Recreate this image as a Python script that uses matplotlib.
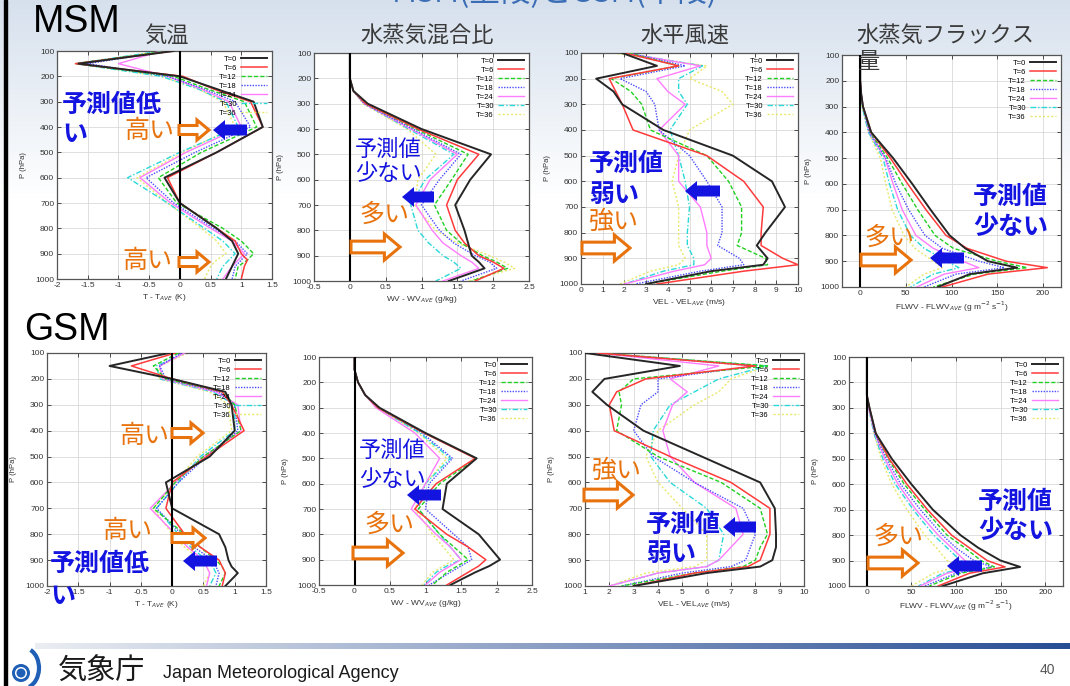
import numpy as np
import matplotlib
matplotlib.use("Agg")
import matplotlib.pyplot as plt
from matplotlib.patches import FancyArrow, Rectangle, Circle, Arc

plt.rcParams['font.family'] = ['Liberation Sans', 'Noto Sans CJK JP', 'DejaVu Sans']
JP = ['Noto Sans CJK JP', 'DejaVu Sans']

W, H = 1070, 686

# pressure levels (hPa)
levels = [100, 150, 200, 250, 300, 400, 500, 600, 700, 800, 850, 900, 925, 950, 1000]
series_labels = ['T=0', 'T=6', 'T=12', 'T=18', 'T=24', 'T=30', 'T=36']

# MSM (upper row)
msm_temp = [
    [-0.1, -1.65, 0.0, 0.6, 1.2, 1.35, 0.6, -0.25, 0.0, 0.6, 0.85, 0.95, 0.9, 0.85, 0.75],
    [-0.1, -1.7, 0.05, 0.55, 1.15, 1.35, 0.6, -0.2, 0.0, 0.6, 0.9, 1.0, 1.1, 1.05, 1.0],
    [-0.2, -1.7, -0.1, 0.45, 1.05, 1.25, 0.35, -0.35, -0.05, 0.7, 1.0, 1.2, 1.1, 0.95, 0.9],
    [-0.2, -1.5, -0.2, 0.4, 0.9, 1.15, 0.25, -0.55, -0.1, 0.55, 0.9, 1.1, 1.0, 0.9, 0.85],
    [-0.3, -1.0, -0.2, 0.35, 0.8, 1.0, 0.1, -0.65, -0.15, 0.5, 0.85, 1.05, 0.95, 0.85, 0.7],
    [-0.3, -1.7, -0.3, 0.3, 0.75, 0.95, 0.0, -0.85, -0.2, 0.4, 0.7, 0.9, 0.8, 0.7, 0.6],
    [-0.3, -1.6, -0.3, 0.3, 0.7, 0.9, 0.05, -0.7, -0.2, 0.35, 0.6, 0.75, 0.6, 0.5, 0.4],
]
msm_wv = [
    [0, 0, 0.0, 0.05, 0.25, 1.0, 1.97, 1.68, 1.47, 1.6, 1.65, 1.7, 1.8, 1.88, 1.38],
    [0, 0, 0.0, 0.05, 0.22, 0.95, 1.8, 1.5, 1.35, 1.47, 1.6, 1.8, 2.0, 2.15, 1.75],
    [0, 0, 0.0, 0.05, 0.22, 0.92, 1.65, 1.42, 1.18, 1.35, 1.55, 1.85, 2.05, 2.2, 1.7],
    [0, 0, 0.0, 0.05, 0.2, 0.88, 1.55, 1.25, 1.0, 1.25, 1.45, 1.75, 1.95, 2.05, 1.55],
    [0, 0, 0.0, 0.05, 0.2, 0.85, 1.5, 1.12, 0.92, 1.15, 1.3, 1.55, 1.7, 1.8, 1.3],
    [0, 0, 0.0, 0.05, 0.2, 0.82, 1.45, 1.05, 0.85, 0.95, 1.1, 1.3, 1.45, 1.55, 1.2],
    [0, 0, 0.0, 0.05, 0.18, 0.8, 1.2, 0.95, 0.9, 1.2, 1.5, 1.95, 2.15, 2.3, 1.65],
]
msm_vel = [
    [1.9, 3.5, 0.7, 1.5, 1.9, 3.8, 7.0, 8.8, 9.4, 8.5, 8.1, 8.6, 8.4, 6.0, 3.0],
    [2.0, 4.5, 1.3, 1.6, 1.9, 2.4, 5.8, 7.5, 8.4, 8.3, 8.3, 9.3, 10.0, 7.5, 3.5],
    [2.2, 4.5, 1.4, 2.3, 2.8, 3.2, 5.8, 6.8, 7.4, 7.4, 7.2, 8.5, 8.6, 6.5, 3.0],
    [2.2, 4.8, 1.8, 3.0, 3.4, 3.6, 5.0, 5.8, 6.5, 6.5, 6.3, 7.3, 7.5, 5.5, 2.5],
    [2.0, 5.5, 3.5, 4.0, 4.8, 3.6, 4.5, 4.5, 5.5, 5.8, 5.8, 6.0, 5.7, 4.3, 2.0],
    [2.0, 5.6, 4.5, 4.5, 4.9, 4.1, 4.5, 4.8, 5.0, 4.9, 4.9, 5.2, 5.2, 3.8, 2.0],
    [1.5, 5.8, 5.0, 6.5, 7.0, 5.0, 4.5, 4.2, 4.5, 4.5, 4.5, 4.8, 4.5, 3.2, 1.8],
]
msm_flwv = [
    [0, 0, 0, 1, 3, 12, 36, 57, 77, 98, 115, 140, 172, 120, 85],
    [0, 0, 0, 1, 3, 12, 33, 52, 72, 94, 117, 160, 205, 140, 90],
    [0, 0, 0, 1, 3, 11, 30, 46, 63, 82, 102, 150, 183, 125, 80],
    [0, 0, 0, 1, 3, 10, 28, 39, 53, 71, 90, 130, 158, 105, 70],
    [0, 0, 0, 1, 3, 10, 27, 36, 46, 61, 80, 112, 130, 92, 62],
    [0, 0, 0, 1, 2, 9, 25, 32, 41, 55, 70, 95, 108, 80, 55],
    [0, 0, 0, 1, 2, 9, 22, 28, 35, 48, 60, 80, 90, 70, 50],
]

# GSM (lower row)
gsm_temp = [
    [-0.05, -1.0, 0.0, 0.85, 0.95, 1.0, 0.6, -0.1, 0.0, 0.75, 0.85, 0.9, 0.95, 1.05, 0.85],
    [0.05, -0.65, 0.0, 0.8, 0.95, 1.15, 0.55, 0.0, -0.1, 0.2, 0.45, 0.75, 0.8, 0.85, 0.8],
    [0.1, -0.3, -0.1, 0.8, 1.0, 1.1, 0.5, 0.05, -0.3, 0.2, 0.45, 0.7, 0.8, 0.85, 0.75],
    [0.15, -0.2, -0.1, 0.75, 1.0, 1.05, 0.55, 0.1, -0.25, 0.15, 0.35, 0.65, 0.7, 0.75, 0.7],
    [0.2, -0.2, -0.15, 0.7, 1.05, 1.1, 0.5, 0.05, -0.35, 0.05, 0.25, 0.5, 0.55, 0.6, 0.55],
    [0.2, -0.25, -0.2, 0.65, 1.0, 1.0, 0.45, 0.1, -0.25, 0.1, 0.3, 0.55, 0.65, 0.7, 0.6],
    [0.25, -0.2, -0.2, 0.6, 0.9, 0.95, 0.4, 0.05, -0.3, 0.0, 0.2, 0.45, 0.55, 0.6, 0.5],
]
gsm_wv = [
    [0, 0, 0.05, 0.15, 0.35, 1.0, 1.72, 1.3, 1.24, 1.75, 1.9, 2.05, 1.9, 1.7, 1.35],
    [0, 0, 0.05, 0.15, 0.33, 0.98, 1.7, 1.15, 0.85, 1.3, 1.6, 1.85, 1.75, 1.6, 1.3],
    [0, 0, 0.05, 0.15, 0.33, 0.98, 1.72, 1.2, 0.9, 1.2, 1.4, 1.6, 1.45, 1.3, 1.1],
    [0, 0, 0.05, 0.15, 0.35, 0.95, 1.38, 1.05, 1.0, 1.4, 1.6, 1.65, 1.5, 1.35, 1.05],
    [0, 0, 0.05, 0.15, 0.3, 0.85, 1.2, 1.0, 0.8, 1.15, 1.35, 1.5, 1.35, 1.2, 1.0],
    [0, 0, 0.05, 0.15, 0.33, 0.92, 1.35, 1.0, 0.9, 1.2, 1.35, 1.5, 1.3, 1.15, 0.98],
    [0, 0, 0.05, 0.15, 0.32, 0.9, 1.3, 1.0, 0.85, 1.1, 1.25, 1.4, 1.25, 1.1, 0.95],
]
gsm_vel = [
    [1.0, 4.9, 1.8, 1.3, 1.9, 3.4, 5.8, 8.2, 8.8, 8.85, 8.85, 8.7, 8.2, 6.0, 3.0],
    [1.5, 8.0, 3.5, 2.3, 2.0, 2.2, 4.5, 7.0, 8.6, 8.6, 8.4, 8.2, 7.7, 5.5, 3.0],
    [1.5, 8.5, 3.0, 2.4, 2.5, 2.3, 4.0, 6.6, 8.2, 8.5, 8.2, 8.0, 7.5, 5.5, 2.5],
    [1.5, 8.0, 4.0, 4.0, 3.3, 3.0, 3.8, 5.5, 7.5, 8.0, 7.8, 7.6, 7.0, 5.0, 2.5],
    [1.5, 6.5, 4.5, 5.2, 4.6, 4.2, 4.5, 5.5, 7.2, 7.5, 7.0, 6.5, 6.0, 4.0, 2.0],
    [1.5, 8.5, 6.5, 5.5, 4.5, 3.8, 3.7, 4.5, 6.0, 6.7, 6.6, 6.5, 6.0, 4.0, 2.0],
    [1.5, 8.5, 7.0, 6.5, 5.5, 4.0, 3.5, 4.0, 5.0, 6.0, 6.0, 6.0, 5.5, 3.5, 2.0],
]
gsm_flwv = [
    [0, 0, 0, 0, 3, 10, 28, 50, 74, 105, 125, 150, 172, 130, 85],
    [0, 0, 0, 0, 3, 10, 25, 45, 68, 95, 115, 135, 155, 115, 80],
    [0, 0, 0, 0, 3, 10, 24, 42, 65, 90, 110, 128, 143, 105, 70],
    [0, 0, 0, 0, 3, 9, 22, 38, 60, 85, 100, 120, 140, 100, 65],
    [0, 0, 0, 0, 2, 9, 20, 35, 55, 80, 95, 110, 120, 90, 60],
    [0, 0, 0, 0, 2, 8, 18, 32, 52, 75, 90, 105, 118, 85, 58],
    [0, 0, 0, 0, 2, 8, 16, 28, 45, 65, 78, 90, 100, 75, 50],
]

colors = ['#262626', '#ff3a3a', '#22d022', '#4a4aff', '#ff7cff', '#2ad8d8', '#e8e86a']
styles = ['-', '-', (0, (3, 1.5)), (0, (1, 1)), '-', (0, (4, 1.5, 1, 1.5)), (0, (1.5, 1.5))]
widths = [1.4, 1.1, 1.0, 1.0, 1.0, 1.0, 1.0]

xlab_t = 'T - T$_{AVE}$ (K)'
xlab_wv = 'WV - WV$_{AVE}$ (g/kg)'
xlab_vel = 'VEL - VEL$_{AVE}$ (m/s)'
xlab_fl = 'FLWV - FLWV$_{AVE}$ (g m$^{-2}$ s$^{-1}$)'

# (data, pixel box l, r, t, b, xlim, xticks, xlabel, zero line)
panels = [
    (msm_temp, (57, 272, 51, 279), (-2, 1.5), np.arange(-2, 1.51, 0.5), xlab_t, True),
    (msm_wv, (314, 529, 53, 281), (-0.5, 2.5), np.arange(-0.5, 2.51, 0.5), xlab_wv, True),
    (msm_vel, (581, 798, 53, 284), (0, 10), np.arange(0, 11, 1), xlab_vel, False),
    (msm_flwv, (842, 1061, 55, 287), (-20, 220), np.arange(0, 201, 50), xlab_fl, True),
    (gsm_temp, (47, 266, 353, 586), (-2, 1.5), np.arange(-2, 1.51, 0.5), xlab_t, True),
    (gsm_wv, (319, 532, 357, 585), (-0.5, 2.5), np.arange(-0.5, 2.51, 0.5), xlab_wv, True),
    (gsm_vel, (585, 804, 353, 586), (1, 10), np.arange(1, 11, 1), xlab_vel, False),
    (gsm_flwv, (849, 1063, 357, 586), (-20, 220), np.arange(0, 201, 50), xlab_fl, True),
]


def fmt(v):
    return '%g' % round(v, 2)


fig = plt.figure(figsize=(W / 100, H / 100), dpi=100)
fig.patch.set_facecolor('white')

# slide background
bg = fig.add_axes([0, 0, 1, 1], zorder=-5)
bg.axis('off')
grad = np.linspace(0, 1, 200).reshape(-1, 1)
top = np.array([0.84, 0.88, 0.93])
cmap_v = top[None, None, :] * (1 - grad[:, :, None]) + np.ones(3)[None, None, :] * grad[:, :, None]
bg.imshow(cmap_v, extent=(0, W, 200, 0), aspect='auto', interpolation='bilinear')
hg = np.linspace(0, 1, 300).reshape(1, -1)
c0 = np.array([0.92, 0.93, 0.95])
c1 = np.array([0.15, 0.30, 0.58])
line_img = c0[None, None, :] * (1 - hg[:, :, None]) + c1[None, None, :] * hg[:, :, None]
bg.imshow(line_img, extent=(35, W, 649, 643), aspect='auto', interpolation='bilinear')
bg.set_xlim(0, W)
bg.set_ylim(H, 0)

for data, (l, r, t, b), xl, xt, xlab, zero in panels:
    ax = fig.add_axes([l / W, 1 - b / H, (r - l) / W, (b - t) / H])
    ax.set_facecolor('white')
    for i in range(len(series_labels)):
        ax.plot(data[i], levels, color=colors[i], ls=styles[i], lw=widths[i],
                label=series_labels[i], zorder=3 - i * 0.1)
    if zero:
        ax.axvline(0, color='black', lw=1.5, zorder=4)
    ax.set_xlim(*xl)
    ax.set_ylim(1000, 100)
    ax.set_xticks(xt)
    ax.set_xticklabels([fmt(v) for v in xt])
    ax.set_yticks(range(100, 1001, 100))
    ax.grid(True, color='#d9d9d9', lw=0.6)
    ax.set_axisbelow(True)
    ax.tick_params(direction='in', top=True, right=True, length=3, width=0.6,
                   labelsize=6, colors='#333333', pad=2)
    for s in ax.spines.values():
        s.set_color('#555555')
        s.set_linewidth(0.9)
    ax.set_xlabel(xlab, fontsize=6, color='#333333', labelpad=2)
    ax.set_ylabel('P (hPa)', fontsize=5.5, color='#333333', labelpad=6)
    ax.legend(loc='upper right', fontsize=5.5, frameon=False, markerfirst=False,
              handlelength=3.4, labelspacing=0.22, handletextpad=0.6,
              borderaxespad=0.4, borderpad=0.2)

# overlay for slide text and arrows
ov = fig.add_axes([0, 0, 1, 1], zorder=10)
ov.set_xlim(0, W)
ov.set_ylim(H, 0)
ov.axis('off')

orange = '#e8720c'
blue = '#1414e0'
gray = '#3a3a3a'

ov.add_patch(Rectangle((4, 0), 3, H, color='black'))

ov.text(555, -7, 'MSM(上段)とGSM(下段)', fontsize=22, color='#3a6db5', ha='center', va='center', family=JP)
ov.text(33, 22, 'MSM', fontsize=27, color='black', ha='left', va='center')
ov.text(24, 330, 'GSM', fontsize=27, color='black', ha='left', va='center')

ov.text(166, 35, '気温', fontsize=16, color=gray, ha='center', va='center', family=JP)
ov.text(427, 35, '水蒸気混合比', fontsize=16, color=gray, ha='center', va='center', family=JP)
ov.text(685, 35, '水平風速', fontsize=16, color=gray, ha='center', va='center', family=JP)
ov.text(856, 35, '水蒸気フラックス', fontsize=16, color=gray, ha='left', va='center', family=JP)
ov.text(858, 62, '量', fontsize=16, color=gray, ha='left', va='center', family=JP)


def label(x, y, s, c, fs=18, bold=False):
    ov.text(x, y, s, fontsize=fs, color=c, ha='left', va='center', family=JP,
            fontweight='bold' if bold else 'normal')


def hollow(x0, x1, y, h):
    ov.add_patch(FancyArrow(x0, y, x1 - x0, 0, width=h * 0.45, head_width=h,
                            head_length=h * 0.6, length_includes_head=True,
                            fc='white', ec=orange, lw=2.2))


def solid_left(x0, x1, y, h):
    ov.add_patch(FancyArrow(x1, y, x0 - x1, 0, width=h * 0.55, head_width=h,
                            head_length=h * 0.6, length_includes_head=True,
                            fc=blue, ec='none'))


# MSM temperature
label(62, 105, '予測値低', blue, bold=True)
label(62, 134, 'い', blue, bold=True)
label(124, 131, '高い', orange)
label(122, 261, '高い', orange)
hollow(179, 209, 130, 20)
hollow(179, 209, 262, 20)
solid_left(213, 247, 130, 20)
# MSM water vapour
label(355, 149, '予測値', blue, fs=16)
label(355, 173, '少ない', blue, fs=16)
label(359, 215, '多い', orange)
hollow(351, 400, 247, 26)
solid_left(402, 434, 197, 20)
# MSM wind
label(589, 164, '予測値', blue, bold=True)
label(589, 195, '弱い', blue, bold=True)
label(589, 222, '強い', orange)
hollow(582, 630, 248, 26)
solid_left(685, 720, 191, 20)
# MSM flux
label(973, 197, '予測値', blue, bold=True)
label(973, 227, '少ない', blue, bold=True)
label(864, 238, '多い', orange)
hollow(861, 911, 260, 26)
solid_left(930, 964, 258, 20)
# GSM temperature
label(119, 436, '高い', orange)
label(102, 531, '高い', orange)
label(50, 564, '予測値低', blue, bold=True)
label(50, 596, 'い', blue, bold=True)
hollow(172, 203, 433, 20)
hollow(172, 205, 538, 20)
solid_left(183, 217, 561, 20)
# GSM water vapour
label(359, 450, '予測値', blue, fs=16)
label(359, 479, '少ない', blue, fs=16)
label(364, 525, '多い', orange)
hollow(353, 403, 553, 26)
solid_left(407, 441, 495, 20)
# GSM wind
label(592, 471, '強い', orange)
label(646, 525, '予測値', blue, bold=True)
label(646, 554, '弱い', blue, bold=True)
hollow(584, 633, 495, 26)
solid_left(723, 756, 527, 20)
# GSM flux
label(978, 502, '予測値', blue, bold=True)
label(978, 531, '少ない', blue, bold=True)
label(873, 537, '多い', orange)
hollow(868, 918, 563, 26)
solid_left(947, 982, 566, 20)

# footer
ov.add_patch(Circle((21, 673), 9, fc='#1f5fb5', ec='none'))
ov.add_patch(Circle((21, 673), 6, fc='white', ec='none'))
ov.add_patch(Circle((21, 673), 4.5, fc='#1f5fb5', ec='none'))
ov.add_patch(Arc((24, 668), 30, 40, theta1=-70, theta2=75, color='#1f5fb5', lw=3))
ov.text(58, 672, '気象庁', fontsize=21, color='#1a1a1a', ha='left', va='center', family=JP)
ov.text(163, 674, 'Japan Meteorological Agency', fontsize=13, color='#1a1a1a', ha='left',
        va='center', family=['Liberation Sans Narrow', 'Liberation Sans', 'DejaVu Sans'])
ov.text(1047, 670, '40', fontsize=10, color='#555555', ha='center', va='center')

fig.savefig('out.png', dpi=100)
